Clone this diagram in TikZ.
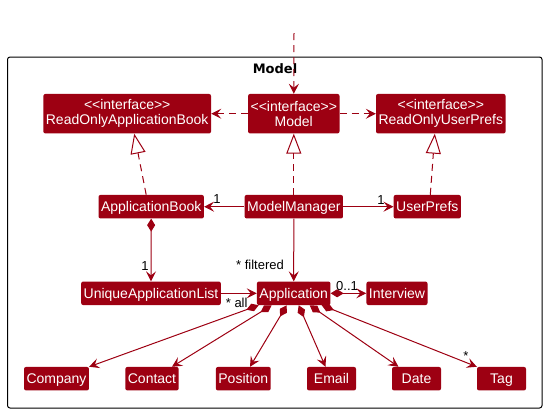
\documentclass[tikz,border=0pt]{standalone}
\usepackage{fontspec}
\setmainfont{Liberation Sans}
\newfontfamily\titlefont{DejaVu Sans}
\usetikzlibrary{arrows.meta}
\definecolor{modelred}{HTML}{9D0012}
\tikzset{
	box/.style={fill=modelred, text=white, rounded corners=2pt, minimum width=49pt, inner xsep=2.5pt, inner ysep=0pt, font=\fontsize{14}{15}\selectfont},
	cls/.style={box, minimum height=23.5pt, text height=13pt, text depth=3pt},
	iface/.style={box, align=center, minimum height=39.5pt},
	dep/.style={draw=modelred, line width=1pt, dash pattern=on 7pt off 5pt, -{Stealth[length=10pt, width=10pt, inset=4pt]}},
	real/.style={draw=modelred, line width=1pt, dash pattern=on 7pt off 5pt, -{Triangle[open, length=20pt, width=15pt]}},
	assoc/.style={draw=modelred, line width=1pt, -{Stealth[length=10pt, width=10pt, inset=4pt]}},
	comp/.style={draw=modelred, line width=1pt, {Diamond[length=13pt, width=8pt]}-{Stealth[length=10pt, width=10pt, inset=4pt]}},
	mult/.style={anchor=base, inner sep=0pt, font=\fontsize{13}{15}\selectfont}
}
\begin{document}
\begin{tikzpicture}[x=1pt, y=-1pt]
	\useasboundingbox (0,0) rectangle (547,413);
	\draw[draw=black, line width=1pt, rounded corners=2.5pt] (7.5,57) rectangle (542,408);
	\node[anchor=base, inner sep=0pt, font=\titlefont\bfseries\fontsize{13}{15}\selectfont] (title) at (275,73.3) {Model};
	\coordinate (entry) at (294,33);
	\node[iface] (roab) at (127.2,113.7) {<\kern0pt<interface>\kern0pt>\\ReadOnlyApplicationBook};
	\node[iface] (model) at (293.8,113.7) {<\kern0pt<interface>\kern0pt>\\Model};
	\node[iface] (roup) at (440.8,113.7) {<\kern0pt<interface>\kern0pt>\\ReadOnlyUserPrefs};
	\node[cls] (appbook) at (151.2,206.7) {ApplicationBook};
	\node[cls] (manager) at (293.8,206.7) {ModelManager};
	\node[cls] (userprefs) at (427.3,206.7) {UserPrefs};
	\node[cls] (ualist) at (151,293.3) {UniqueApplicationList};
	\node[cls] (application) at (293.7,293.3) {Application};
	\node[cls] (interview) at (397,293.3) {Interview};
	\node[cls] (company) at (56.5,378.7) {Company};
	\node[cls] (contact) at (152,378.7) {Contact};
	\node[cls] (position) at (243.3,378.7) {Position};
	\node[cls] (email) at (331.5,378.7) {Email};
	\node[cls] (date) at (416.5,378.7) {Date};
	\node[cls] (tag) at (501.5,378.7) {Tag};
	\draw[dep] (entry) -- (model);
	\draw[dep] (model) -- (roab);
	\draw[dep] (model) -- (roup);
	\draw[real] ([xshift=-5pt]appbook.north) -- ([xshift=7pt]roab.south);
	\draw[real] (manager) -- (model);
	\draw[real] ([xshift=3pt]userprefs.north) -- ([xshift=-6pt]roup.south);
	\draw[assoc] (manager) -- (appbook);
	\draw[assoc] (manager) -- (userprefs);
	\draw[comp] (appbook) -- (ualist);
	\draw[assoc] (manager) -- (application);
	\draw[assoc] (ualist) -- (application);
	\draw[comp] (application) -- (interview);
	\draw[comp] ([xshift=-35pt]application.south) -- (company.north east);
	\draw[comp] ([xshift=-22pt]application.south) -- ([xshift=20pt]contact.north);
	\draw[comp] ([xshift=-7pt]application.south) -- ([xshift=6.7pt]position.north);
	\draw[comp] ([xshift=5pt]application.south) -- ([xshift=-6pt]email.north);
	\draw[comp] ([xshift=16pt]application.south) -- ([xshift=-18pt]date.north);
	\draw[comp] ([xshift=28pt]application.south) -- (tag.north west);
	\node[mult] (abmult) at (217,203) {1};
	\node[mult] (upmult) at (381,204) {1};
	\node[mult] (ualmult) at (145,270) {1};
	\node[mult] (filtered) at (260,269) {* filtered};
	\node[mult] (all) at (236.7,307.5) {* all};
	\node[mult] (ivmult) at (347,290) {0..1};
	\node[mult] (tagmult) at (466,360.5) {*};
\end{tikzpicture}
\end{document}
